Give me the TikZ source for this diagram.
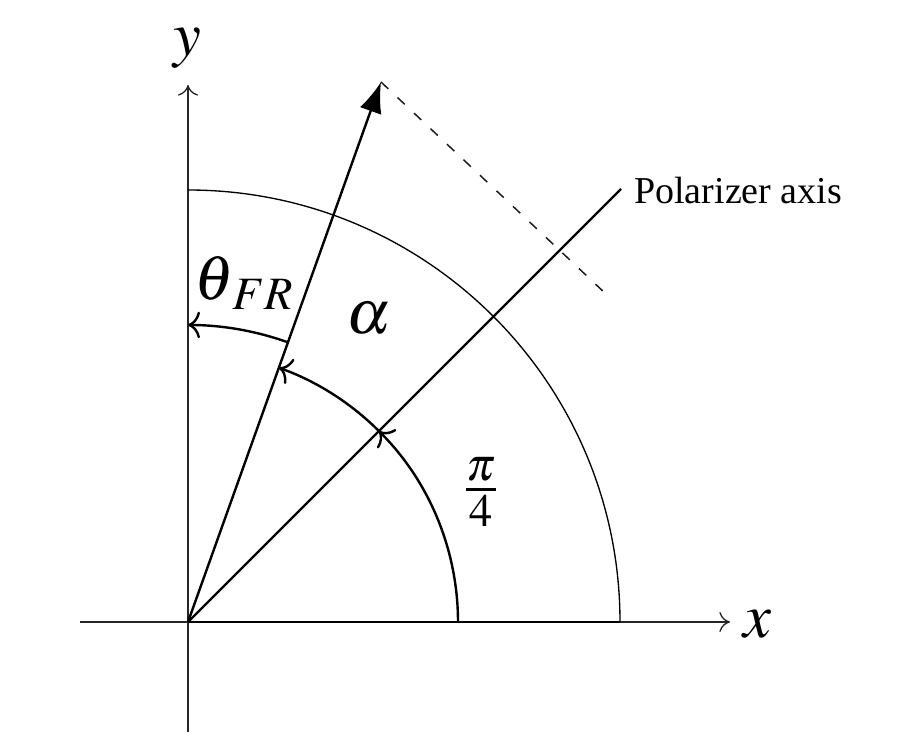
\documentclass[tikz,border=0pt]{standalone}
\usepackage{amsmath}
\usepackage{mathptmx}
\usepackage[no-math]{fontspec}
\setmainfont{Liberation Serif}
\usetikzlibrary{
  arrows.meta,
  positioning,
}
\def\myarcin{270}
\def\myarcfr{297}
\def\myarcout{432}
\def\myvecang{70.3}
\tikzset{
  x=0.75pt,
  y=0.75pt,
  thin axis/.style={
    line width=1pt,
    draw=black!85,
    -{Computer Modern Rightarrow[length=8pt,width=15pt]}
  },
  thick line/.style={
    line width=1.8pt
  },
  angle arc/.style={
    thick line,
    -{Computer Modern Rightarrow[length=9pt,width=20pt]}
  },
  big label/.style={
    inner sep=0pt,
    font=\fontsize{47}{50}\selectfont
  }
}
\begin{document}
\begin{tikzpicture}
\useasboundingbox (-188,-134) rectangle (709,622);
\coordinate (o) at (0,0);
\coordinate (xl) at (-108,0);
\coordinate (xr) at (542,0);
\coordinate (yb) at (0,-110);
\coordinate (yt) at (0,537);
\coordinate (tip) at (193,540);
\coordinate (pol) at (433,433);
\coordinate (dash) at (418,328);
\coordinate (out) at (\myarcout,0);
\coordinate (in) at (\myarcin,0);
\coordinate (inmid) at (45:\myarcin);
\coordinate (frs) at (\myvecang:\myarcfr);
% axes
\draw[thin axis] (xl) -- (xr);
\draw[thin axis] (yb) -- (yt);
% base line, polarizer and vector
\draw[thick line] (o) -- (out);
\draw[thick line] (o) -- (pol);
\draw[thick line,-{Latex[length=23pt,width=17pt]}] (o) -- (tip);
\draw[line width=1.1pt,draw=black!90,dash pattern=on 7.5pt off 9.5pt] (tip) -- (dash);
% arcs
\draw[line width=1pt] (out) arc[start angle=0,end angle=90,radius=\myarcout];
\draw[angle arc] (in) arc[start angle=0,end angle=45,radius=\myarcin];
\draw[angle arc] (inmid) arc[start angle=45,end angle=\myvecang,radius=\myarcin];
\draw[angle arc] (frs) arc[start angle=\myvecang,end angle=90,radius=\myarcfr];
% labels
\node[big label] (xlab) at (570,-2) {$x$};
\node[big label] (ylab) at (-1,574) {$y$};
\node[big label] (thetalab) at (56,339) {$\theta_{\,FR}$};
\node[big label] (alphalab) at (181,303) {$\alpha$};
\node[big label] (pilab) at (293,130) {$\tfrac{\pi}{4}$};
\node[inner sep=0pt,anchor=west,font=\fontsize{28.5}{30}\selectfont] (pollab) at (446,431) {Polarizer axis};
\end{tikzpicture}
\end{document}
